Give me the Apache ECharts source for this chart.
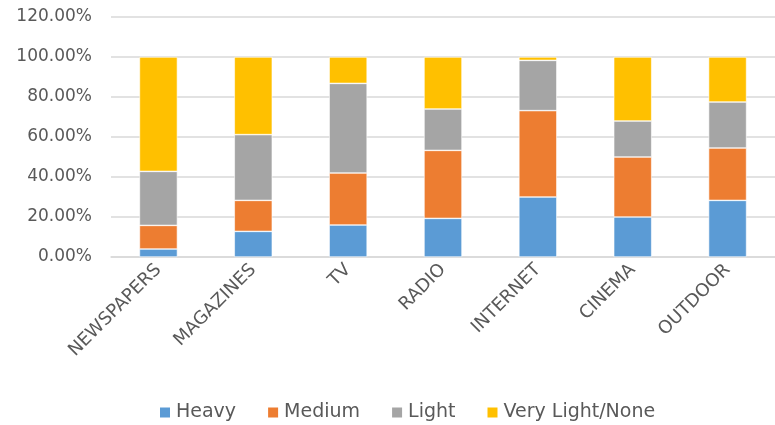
<!DOCTYPE html>
<html>
<head>
<meta charset="utf-8">
<script src="https://cdn.jsdelivr.net/npm/echarts@6/dist/echarts.min.js"></script>
<style>
  html, body { margin: 0; padding: 0; background: #fff; }
  #chart { width: 775px; height: 425px; }
</style>
</head>
<body>
<div id="chart"></div>
<script>
// Media usage share by category (percent of respondents)
const categories = ['NEWSPAPERS', 'MAGAZINES', 'TV', 'RADIO', 'INTERNET', 'CINEMA', 'OUTDOOR'];
const heavy     = [4.0, 12.8, 16.0, 19.3, 30.0, 20.0, 28.3];
const medium    = [11.8, 15.5, 26.0, 34.0, 43.2, 30.0, 26.2];
const light     = [27.0, 32.9, 44.8, 20.7, 25.1, 18.0, 23.0];
const veryLight = [57.2, 38.8, 13.2, 26.0, 1.7, 32.0, 22.5];
const seriesNames = ['Heavy', 'Medium', 'Light', 'Very Light/None'];
const colors = ['#5B9BD5', '#ED7D31', '#A5A5A5', '#FFC000'];

const FONT = '"DejaVu Sans", sans-serif';
const TEXT = '#595959';

const chart = echarts.init(document.getElementById('chart'), null, { renderer: 'canvas' });

const makeSeries = (name, data, color) => ({
  name,
  type: 'bar',
  stack: 'total',
  barWidth: 38,
  data,
  itemStyle: { color, borderColor: '#ffffff', borderWidth: 0.6 },
  emphasis: { disabled: true }
});

chart.setOption({
  animation: false,
  textStyle: { fontFamily: FONT },
  grid: { left: 111, top: 17, width: 674, height: 240, containLabel: false },
  legend: {
    top: 398,
    left: 153,
    itemWidth: 12,
    itemHeight: 12,
    itemGap: 30,
    itemTextGap: 4,
    icon: 'rect',
    textStyle: { color: TEXT, fontSize: 19, fontFamily: FONT },
    data: seriesNames
  },
  xAxis: {
    type: 'category',
    data: categories,
    axisLine: { show: true, lineStyle: { color: '#d9d9d9', width: 1.5 } },
    axisTick: { show: false },
    axisLabel: {
      rotate: 45,
      interval: 0,
      color: TEXT,
      fontSize: 18,
      fontFamily: FONT,
      margin: 10
    }
  },
  yAxis: {
    type: 'value',
    min: 0,
    max: 120,
    interval: 20,
    axisLine: { show: false },
    axisTick: { show: false },
    splitLine: { lineStyle: { color: '#d9d9d9', width: 1.5 } },
    axisLabel: {
      color: TEXT,
      fontSize: 17,
      fontFamily: FONT,
      margin: 19,
      formatter: v => v.toFixed(2) + '%'
    }
  },
  series: [
    makeSeries(seriesNames[0], heavy, colors[0]),
    makeSeries(seriesNames[1], medium, colors[1]),
    makeSeries(seriesNames[2], light, colors[2]),
    makeSeries(seriesNames[3], veryLight, colors[3])
  ]
});
</script>
</body>
</html>
